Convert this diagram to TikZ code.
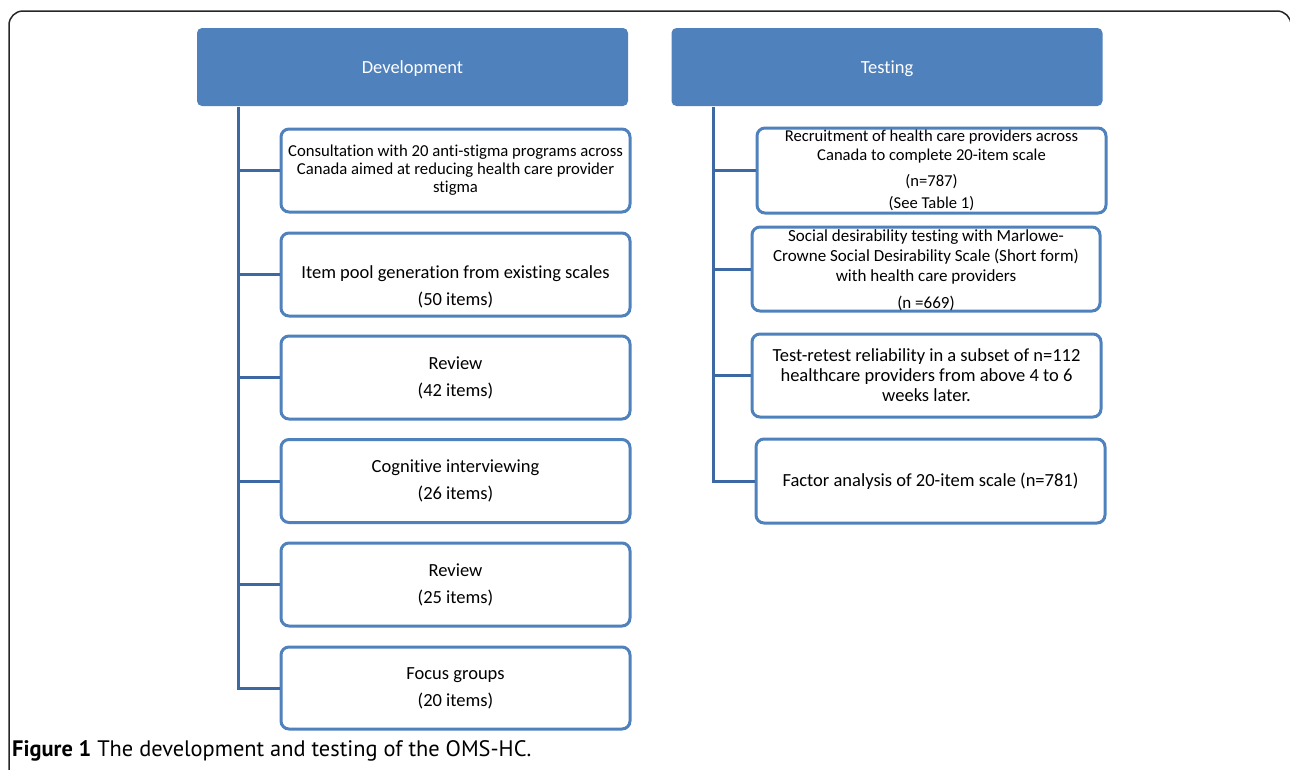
\documentclass[tikz,border=0pt]{standalone}
\usepackage{fontspec}
\setmainfont{Carlito}[Ligatures=NoCommon]
\newfontfamily\capfont{PT Sans}
\begin{document}
\begin{tikzpicture}[x=1pt,y=-1pt,
  hdr/.style={draw=none,fill=hdrblue,rounded corners=5pt,minimum width=431pt,minimum height=78pt,inner sep=0pt,text=white,font=\fontsize{18.5}{20}\selectfont},
  stepbox/.style={draw=boxblue,line width=3pt,rounded corners=8pt,fill=white,minimum width=349pt,minimum height=83pt,inner sep=0pt},
  lbl/.style={align=center,inner sep=0pt,font=\fontsize{18.5}{20}\selectfont},
  tlbl/.style={align=center,inner sep=0pt,font=\fontsize{16.6}{19}\selectfont},
  conn/.style={draw=connblue,line width=3pt}]
\definecolor{hdrblue}{RGB}{79,129,189}
\definecolor{boxblue}{RGB}{79,129,189}
\definecolor{connblue}{RGB}{60,104,164}
\useasboundingbox (0,0) rectangle (1290,769);
\clip (0,0) rectangle (1290,769);
% outer frame
\draw[line width=1.5pt,rounded corners=14pt,black!85] (9,11) rectangle (1291,820);
% headers
\node[hdr] (dev) at (412.5,67) {};
\node[hdr] (tst) at (887,67) {};
\node[text=white,inner sep=0pt,font=\fontsize{18.5}{20}\selectfont,yshift=-2pt] (devt) at (dev.center) {Development};
\node[text=white,inner sep=0pt,font=\fontsize{18.5}{20}\selectfont,yshift=-2pt] (tstt) at (tst.center) {Testing};
% development boxes
\node[stepbox] (d1) at (455.5,170.5) {};
\node[stepbox] (d2) at (455.5,274.5) {};
\node[stepbox] (d3) at (455.5,377.5) {};
\node[stepbox] (d4) at (455.5,481) {};
\node[stepbox] (d5) at (455.5,584.5) {};
\node[stepbox,minimum height=82pt] (d6) at (455.5,688) {};
\node[lbl,font=\fontsize{16.7}{18}\selectfont] (d1t) at (d1.center) {Consultation with 20 anti-stigma programs across\\Canada aimed at reducing health care provider\\stigma};
\node[lbl,yshift=-12pt] (d2t) at (d2.center) {Item pool generation from existing scales\\[7pt](50 items)};
\node[lbl] (d3t) at (d3.center) {Review\\[7pt](42 items)};
\node[lbl] (d4t) at (d4.center) {Cognitive interviewing\\[7pt](26 items)};
\node[lbl] (d5t) at (d5.center) {Review\\[7pt](25 items)};
\node[lbl] (d6t) at (d6.center) {Focus groups\\[7pt](20 items)};
% testing boxes
\node[stepbox,minimum height=85pt] (t1) at (931.5,170.5) {};
\node[stepbox,minimum width=348pt,minimum height=84pt] (t2) at (926,269) {};
\node[stepbox] (t3) at (926.5,375.5) {};
\node[stepbox,minimum height=84pt] (t4) at (930.5,481) {};
\node[tlbl] (t1t) at (t1.center) {Recruitment of health care providers across\\Canada to complete 20-item scale\\[7pt](n=787)\\[3pt](See Table 1)};
\node[tlbl,font=\fontsize{17}{20}\selectfont,yshift=-1pt] (t2t) at (t2.center) {Social desirability testing with Marlowe-\\Crowne Social Desirability Scale (Short form)\\with health care providers\\[7pt](n =669)};
\node[tlbl,font=\fontsize{18.5}{20}\selectfont] (t3t) at (t3.center) {Test-retest reliability in a subset of n=112\\healthcare providers from above 4 to 6\\weeks later.};
\node[lbl] (t4t) at (t4.center) {Factor analysis of 20-item scale (n=781)};
% connectors
\coordinate (dtop) at (238,107);
\coordinate (ttop) at (713,107);
\draw[conn] (dtop) |- (d6.west);
\foreach \n in {d1,d2,d3,d4,d5} \draw[conn] (dtop |- \n.west) -- (\n.west);
\draw[conn] (ttop) |- (t4.west);
\foreach \n in {t1,t2,t3} \draw[conn] (ttop |- \n.west) -- (\n.west);
% caption
\node[anchor=west,inner sep=0pt,font=\capfont\fontsize{22.4}{25}\selectfont] (cap) at (12,751) {\textbf{Figure 1} The development and testing of the OMS-HC.};
\end{tikzpicture}
\end{document}
